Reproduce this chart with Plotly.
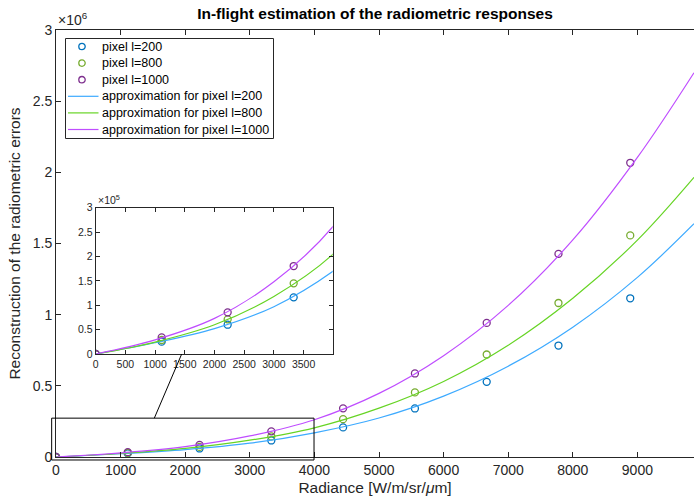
import plotly.graph_objects as go

# ---------------- data ----------------
radiance = [0, 1111, 2222, 3333, 4444, 5556, 6667, 7778, 8889]
pixel_200 = [0, 25300, 60100, 116200, 208000, 341000, 528000, 783000, 1115000]
pixel_800 = [0, 28700, 71100, 144900, 266000, 454000, 720000, 1082000, 1557000]
pixel_1000 = [0, 34200, 85400, 180400, 342000, 587000, 942000, 1427000, 2067000]

fit_radiance = [0, 1000, 2000, 3000, 4000, 5000, 6000, 7000, 8000, 9000, 9876]
fit_200 = [0, 23000, 52000, 97000, 170000, 274000, 428000, 638000, 912000, 1262000, 1639000]
fit_800 = [0, 24500, 60000, 118000, 205000, 343000, 531000, 785000, 1115000, 1524000, 1965000]
fit_1000 = [0, 29000, 73000, 148000, 262000, 447000, 712000, 1065000, 1525000, 2105000, 2700000]

x_ticks = [0, 1000, 2000, 3000, 4000, 5000, 6000, 7000, 8000, 9000]
y_ticks = [0, 500000, 1000000, 1500000, 2000000, 2500000, 3000000]
y_ticktext = ["0", "0.5", "1", "1.5", "2", "2.5", "3"]
inset_x_ticks = [0, 500, 1000, 1500, 2000, 2500, 3000, 3500]
inset_y_ticks = [0, 50000, 100000, 150000, 200000, 250000, 300000]
inset_y_ticktext = ["0", "0.5", "1", "1.5", "2", "2.5", "3"]

names_pts = ["pixel l=200", "pixel l=800", "pixel l=1000"]
names_fit = ["approximation for pixel l=200", "approximation for pixel l=800",
             "approximation for pixel l=1000"]

# ---------------- styles / layout constants ----------------
marker_colors = ["#0072BD", "#77AC30", "#7E2F8E"]
line_colors = ["#3DAAFF", "#66D424", "#BF4DFF"]
axis_col = "#262626"
FONT = "Liberation Sans, Arial, sans-serif"

W, H = 694, 501
ML, MR, MT, MB = 56, 0, 30, 44
PW, PH = W - ML - MR, H - MT - MB

X_MAX = 9876
Y_MAX = 3000000
INSET_X_MAX = 3990
INSET_Y_MAX = 300000
inset_dom_x = [0.0622, 0.4337]
inset_dom_y = [0.2412, 0.5838]
zoom_box = dict(x0=-67, x1=3994, y0=-21000, y1=273000)


def pxp(pix_x):
    """pixel x in page -> paper x"""
    return (pix_x - ML) / PW


def pyp(pix_y):
    """pixel y in page (from top) -> paper y"""
    return (H - MB - pix_y) / PH


fig = go.Figure()

pts = [pixel_200, pixel_800, pixel_1000]
fits = [fit_200, fit_800, fit_1000]

for xa, ya in [("x", "y"), ("x2", "y2")]:
    for i in range(3):
        fig.add_trace(go.Scatter(
            x=radiance, y=pts[i], mode="markers", name=names_pts[i],
            marker=dict(symbol="circle-open", size=7, color=marker_colors[i],
                        line=dict(width=1.3, color=marker_colors[i])),
            xaxis=xa, yaxis=ya, showlegend=False))
    for i in range(3):
        fig.add_trace(go.Scatter(
            x=fit_radiance, y=fits[i], mode="lines", name=names_fit[i],
            line=dict(color=line_colors[i], width=1.2, shape="spline"),
            xaxis=xa, yaxis=ya, showlegend=False))

common = dict(showline=True, linecolor=axis_col, linewidth=1, ticks="inside",
              tickcolor=axis_col, showgrid=False, zeroline=False)

fig.update_layout(
    width=W, height=H,
    margin=dict(l=ML, r=MR, t=MT, b=MB),
    plot_bgcolor="white", paper_bgcolor="white",
    font=dict(family=FONT, size=14, color=axis_col),
    title=dict(text="<b>In-flight estimation of the radiometric responses</b>",
               x=0.5, xref="paper", xanchor="center",
               y=1 - 14 / H, yref="container", yanchor="middle",
               font=dict(size=15.5, color="black")),
    xaxis=dict(range=[0, X_MAX], tickvals=x_ticks, ticklen=5, mirror="ticks",
               tickfont=dict(size=14),
               title=dict(text="Radiance [W/m/sr/<i>μ</i>m]", standoff=5,
                          font=dict(size=15.5)),
               **common),
    yaxis=dict(range=[0, Y_MAX], tickvals=y_ticks, ticktext=y_ticktext, ticklen=5,
               mirror=False, tickfont=dict(size=14),
               title=dict(text="Reconstruction of the radiometric errors", standoff=8,
                          font=dict(size=15.5)),
               **common),
    xaxis2=dict(domain=inset_dom_x, anchor="y2", range=[0, INSET_X_MAX],
                tickvals=inset_x_ticks, ticklen=4, mirror="ticks",
                tickfont=dict(size=10.5), **common),
    yaxis2=dict(domain=inset_dom_y, anchor="x2", range=[0, INSET_Y_MAX],
                tickvals=inset_y_ticks, ticktext=inset_y_ticktext, ticklen=4,
                mirror="ticks", tickfont=dict(size=10.5), **common),
    showlegend=False,
)

# zoom rectangle and connector
fig.add_shape(type="rect", xref="paper", yref="paper",
              x0=zoom_box["x0"] / X_MAX, x1=zoom_box["x1"] / X_MAX,
              y0=zoom_box["y0"] / Y_MAX, y1=zoom_box["y1"] / Y_MAX,
              line=dict(color="black", width=1))
inset_anchor_x = 1448
box_anchor_x = 1522
fig.add_shape(type="line", xref="paper", yref="paper",
              x0=inset_dom_x[0] + inset_anchor_x / INSET_X_MAX * (inset_dom_x[1] - inset_dom_x[0]),
              y0=inset_dom_y[0],
              x1=box_anchor_x / X_MAX, y1=zoom_box["y1"] / Y_MAX,
              line=dict(color="black", width=1))

# exponent labels
fig.add_annotation(text="×10<sup>6</sup>", xref="paper", yref="paper", x=0, y=1,
                   xanchor="left", yanchor="bottom", showarrow=False,
                   font=dict(size=14, color=axis_col))
fig.add_annotation(text="×10<sup>5</sup>", xref="paper", yref="paper",
                   x=inset_dom_x[0], y=inset_dom_y[1],
                   xanchor="left", yanchor="bottom", showarrow=False,
                   font=dict(size=10.5, color=axis_col))

# legend (drawn as box + symbols + text)
LEG_L, LEG_R, LEG_T, LEG_B = 65.5, 273.5, 38.5, 138.5
row_y0, row_dy = 46.5, 16.6
sym_x, line_x0, line_x1, text_x = 82, 68, 98.5, 100
fig.add_shape(type="rect", xref="paper", yref="paper",
              x0=pxp(LEG_L), x1=pxp(LEG_R), y0=pyp(LEG_B), y1=pyp(LEG_T),
              line=dict(color=axis_col, width=1), fillcolor="white", layer="above")
entries = ([("marker", marker_colors[i], names_pts[i]) for i in range(3)] +
           [("line", line_colors[i], names_fit[i]) for i in range(3)])
for k, (kind, col, label) in enumerate(entries):
    ry = row_y0 + k * row_dy
    if kind == "marker":
        fig.add_shape(type="circle", xref="paper", yref="paper",
                      xsizemode="pixel", ysizemode="pixel",
                      xanchor=pxp(sym_x), yanchor=pyp(ry),
                      x0=-3.2, x1=3.2, y0=-3.2, y1=3.2,
                      line=dict(color=col, width=1.3), layer="above")
    else:
        fig.add_shape(type="line", xref="paper", yref="paper",
                      x0=pxp(line_x0), x1=pxp(line_x1), y0=pyp(ry), y1=pyp(ry),
                      line=dict(color=col, width=1.2), layer="above")
    fig.add_annotation(text=label, xref="paper", yref="paper",
                       x=pxp(text_x), y=pyp(ry), xanchor="left", yanchor="middle",
                       showarrow=False, font=dict(size=12.5, color="black"))

fig.write_html("out.html")
